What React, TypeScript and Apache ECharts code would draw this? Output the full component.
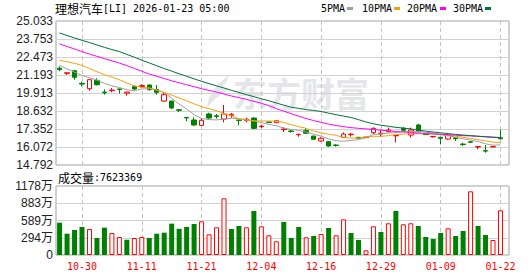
import React, { useEffect, useRef } from 'react';
import * as echarts from 'echarts';

const stockName = '理想汽车';
const stockCode = '[LI]';
const timestamp = '2026-01-23 05:00';
const volumeLabel = '成交量';
const lastVolume = 7623369;

const dates = [
  '10-27', '10-28', '10-29', '10-30', '10-31', '11-03', '11-04', '11-05', '11-06', '11-07',
  '11-10', '11-11', '11-12', '11-13', '11-14', '11-17', '11-18', '11-19', '11-20', '11-21',
  '11-24', '11-25', '11-26', '11-28', '12-01', '12-02', '12-03', '12-04', '12-05', '12-08',
  '12-09', '12-10', '12-11', '12-12', '12-15', '12-16', '12-17', '12-18', '12-19', '12-22',
  '12-23', '12-24', '12-26', '12-29', '12-30', '12-31', '01-02', '01-05', '01-06', '01-07',
  '01-08', '01-09', '01-12', '01-13', '01-14', '01-15', '01-16', '01-20', '01-21', '01-22',
];
const xTickLabels = ['10-30', '11-11', '11-21', '12-04', '12-16', '12-29', '01-09', '01-22'];

const opens = [
  21.68, 21.31, 21.5, 20.6, 20.22, 20.81, 19.98, 20.08, 20.2, 19.9,
  20.36, 20.37, 20.48, 20.17, 19.34, 19.34, 18.72, 18.18, 17.99, 17.61,
  18.42, 18.29, 18.06, 18.33, 17.99, 17.95, 18.13, 17.52, 17.85, 17.8,
  17.31, 17.21, 16.95, 17.24, 16.85, 16.5, 16.45, 16.21, 16.76, 16.95,
  16.76, 16.74, 17.09, 17.02, 17.16, 16.87, 17.4, 16.92, 17.64, 16.99,
  16.8, 16.76, 16.64, 16.73, 16.28, 16.44, 16.07, 15.81, 16.08, 16.73,
];
const closes = [
  21.57, 21.35, 21.03, 20.55, 20.86, 20.5, 19.93, 20.12, 20.17, 19.98,
  20.2, 20.44, 20.15, 19.96, 19.79, 18.85, 18.68, 18.14, 17.64, 17.97,
  18.13, 18.25, 18.42, 18.4, 17.97, 18.05, 17.4, 17.56, 17.82, 17.94,
  17.35, 17.18, 16.98, 17.05, 16.62, 16.69, 16.14, 16.18, 16.99, 16.98,
  16.7, 16.77, 17.4, 17.05, 17.28, 16.9, 17.26, 17.28, 17.16, 16.95,
  16.82, 16.69, 16.92, 16.66, 16.25, 16.41, 16.1, 15.78, 16.1, 16.66,
];
const lows = [
  21.47, 21.2, 20.86, 20.4, 20.08, 20.45, 19.79, 19.96, 19.87, 19.72,
  20.13, 20.29, 20.08, 19.79, 19.27, 18.78, 18.55, 17.9, 17.57, 17.59,
  18.09, 18.09, 17.83, 18.13, 17.61, 17.83, 17.33, 17.42, 17.82, 17.8,
  17.14, 17.1, 16.8, 17.0, 16.6, 16.45, 16.1, 16.1, 16.73, 16.82,
  16.68, 16.72, 16.99, 16.8, 17.1, 16.4, 17.16, 16.75, 17.12, 16.93,
  16.74, 16.26, 16.58, 16.5, 16.15, 16.36, 15.91, 15.67, 16.05, 16.6,
];
const highs = [
  21.8, 21.36, 21.52, 20.72, 20.9, 20.96, 20.17, 20.27, 20.22, 19.99,
  20.46, 20.53, 20.51, 20.48, 19.96, 19.36, 18.78, 18.19, 18.18, 18.13,
  18.51, 18.42, 19.06, 18.49, 18.0, 18.15, 18.18, 17.66, 17.86, 17.96,
  17.48, 17.3, 16.98, 17.4, 16.87, 16.78, 16.5, 16.28, 17.11, 17.08,
  16.78, 16.8, 17.47, 17.3, 17.45, 16.9, 17.5, 17.45, 17.72, 17.02,
  16.82, 16.78, 17.02, 16.75, 16.36, 16.5, 16.1, 16.21, 16.14, 17.28,
];

// volume in 万 (10k shares)
const volumes = [
  552, 364, 427, 478, 444, 290, 467, 376, 307, 262,
  290, 307, 290, 364, 381, 535, 447, 478, 529, 575,
  353, 473, 968, 444, 495, 473, 751, 490, 336, 234,
  563, 290, 478, 302, 324, 359, 461, 336, 609, 376,
  256, 80, 490, 393, 541, 751, 524, 541, 495, 307,
  273, 376, 456, 324, 410, 1087, 495, 341, 256, 762,
];
// 1 = rose vs previous close (red hollow), 0 = fell (green)
const volumeUp = [
  0, 0, 0, 0, 1, 0, 0, 1, 1, 0,
  1, 1, 0, 0, 0, 0, 0, 0, 0, 1,
  1, 1, 1, 0, 0, 1, 0, 1, 1, 1,
  0, 0, 0, 1, 0, 1, 0, 1, 1, 0,
  0, 1, 1, 0, 1, 0, 1, 1, 0, 0,
  0, 0, 1, 0, 0, 1, 0, 0, 1, 1,
];

const ma5 = [
  21.88, 21.62, 21.4, 21.15, 21.0, 20.83, 20.6, 20.42, 20.3, 20.14,
  20.08, 20.2, 20.22, 20.13, 19.95, 19.55, 19.12, 18.78, 18.36, 18.1,
  18.02, 18.0, 18.06, 18.12, 18.08, 18.02, 17.94, 17.8, 17.68, 17.58,
  17.42, 17.32, 17.25, 17.14, 16.98, 16.84, 16.65, 16.52, 16.48, 16.54,
  16.59, 16.74, 16.96, 17.0, 17.06, 17.1, 17.17, 17.17, 17.18, 17.12,
  17.07, 16.95, 16.87, 16.76, 16.65, 16.57, 16.46, 16.3, 16.2, 16.22,
];
const ma10 = [
  22.24, 22.14, 22.02, 21.88, 21.65, 21.42, 21.22, 21.04, 20.86, 20.62,
  20.42, 20.32, 20.28, 20.12, 19.95, 19.76, 19.56, 19.36, 19.14, 18.94,
  18.8, 18.65, 18.45, 18.28, 18.08, 17.97, 17.93, 17.92, 17.92, 17.92,
  17.82, 17.66, 17.52, 17.4, 17.2, 17.08, 16.98, 16.9, 16.74, 16.71,
  16.71, 16.8, 16.83, 16.83, 16.88, 16.95, 16.99, 17.02, 17.02, 17.01,
  17.0, 16.96, 16.9, 16.84, 16.76, 16.68, 16.6, 16.5, 16.41, 16.39,
];
const ma20 = [
  23.4, 23.22, 23.04, 22.86, 22.68, 22.52, 22.36, 22.2, 22.04, 21.86,
  21.66, 21.46, 21.26, 21.1, 20.94, 20.78, 20.64, 20.5, 20.36, 20.22,
  20.1, 19.98, 19.84, 19.7, 19.58, 19.46, 19.32, 19.18, 19.02, 18.8,
  18.62, 18.44, 18.26, 18.1, 17.95, 17.82, 17.7, 17.6, 17.52, 17.45,
  17.4, 17.36, 17.32, 17.27, 17.22, 17.17, 17.14, 17.1, 17.06, 17.03,
  17.0, 16.97, 16.94, 16.91, 16.88, 16.86, 16.83, 16.8, 16.76, 16.73,
];
const ma30 = [
  24.18, 24.0, 23.83, 23.66, 23.5, 23.33, 23.16, 23.0, 22.86, 22.66,
  22.46, 22.25, 22.05, 21.85, 21.65, 21.47, 21.28, 21.1, 20.92, 20.74,
  20.58, 20.42, 20.27, 20.1, 19.95, 19.8, 19.65, 19.5, 19.36, 19.2,
  19.05, 18.9, 18.82, 18.73, 18.67, 18.6, 18.48, 18.37, 18.27, 18.17,
  18.02, 17.85, 17.72, 17.62, 17.55, 17.47, 17.42, 17.36, 17.28, 17.2,
  17.14, 17.08, 17.02, 16.97, 16.92, 16.88, 16.84, 16.8, 16.77, 16.75,
];

const priceTicks = [14.792, 16.072, 17.352, 18.632, 19.913, 21.193, 22.473, 23.753, 25.033];
const volumeTicks = [0, 294.5, 589, 883.5, 1178];

const maNames = ['5PMA', '10PMA', '20PMA', '30PMA'];
const maColors = ['#9f9f9f', '#f2a20c', '#ff00ff', '#00703c'];
const maSeries = [ma5, ma10, ma20, ma30];

const RED = '#ff0000';
const GREEN = '#008000';
const MONO = 'DejaVu Sans Mono';
const CJK = 'Noto Sans CJK SC';

export default function App() {
  const ref = useRef<HTMLDivElement>(null);

  useEffect(() => {
    const chart = echarts.init(ref.current as HTMLDivElement, null, { renderer: 'svg' });
    const idx = dates.map((_, i) => i);
    const tickIdx = xTickLabels.map((l) => dates.indexOf(l));
    const xMin = -0.48;
    const xMax = 60.14;

    const xBase = (gridIndex: number, showLabel: boolean) => ({
      type: 'value',
      gridIndex,
      min: xMin,
      max: xMax,
      axisLine: { show: false },
      axisTick: { show: false, customValues: tickIdx },
      axisLabel: {
        show: showLabel,
        customValues: tickIdx,
        formatter: (v: number) => dates[Math.round(v)],
        color: RED,
        fontFamily: MONO,
        fontSize: 10,
        margin: 6,
      },
      splitLine: { show: true, lineStyle: { color: '#c4c4c4', type: [4, 3], width: 1 } },
    });

    const legendX = [321, 362, 407, 453];
    const legendRectX = [347, 394, 440, 485];

    const graphic: any[] = [
      {
        type: 'polygon',
        z: -10,
        silent: true,
        shape: { points: [[229, 75], [218, 84], [209, 97], [207, 108], [213, 101], [221, 94], [231, 89], [222, 88], [226, 82]] },
        style: { fill: '#e6e6ea' },
      },
      {
        type: 'text',
        z: -10,
        silent: true,
        x: 233,
        y: 92,
        style: {
          text: '东方财富',
          fontFamily: CJK,
          fontSize: 34,
          fontWeight: 'bold',
          fill: '#e6e6ea',
          verticalAlign: 'middle',
        },
      },
      {
        type: 'text',
        x: 55,
        y: 8,
        style: {
          text: `{a|${stockName}}{b|${stockCode} ${timestamp}}`,
          verticalAlign: 'middle',
          rich: {
            a: { fontFamily: CJK, fontSize: 12, fill: '#000', color: '#000' },
            b: { fontFamily: MONO, fontSize: 10, fill: '#000', color: '#000' },
          },
        },
      },
      {
        type: 'text',
        x: 58,
        y: 177,
        style: {
          text: `{a|${volumeLabel}}{b|:${lastVolume}}`,
          verticalAlign: 'middle',
          rich: {
            a: { fontFamily: CJK, fontSize: 12, fill: '#000', color: '#000' },
            b: { fontFamily: MONO, fontSize: 10, fill: '#000', color: '#000' },
          },
        },
      },
    ];
    maNames.forEach((n, k) => {
      graphic.push({
        type: 'text',
        x: legendX[k],
        y: 8,
        style: { text: n, fontFamily: MONO, fontSize: 10, fill: '#000', verticalAlign: 'middle' },
      });
      graphic.push({
        type: 'rect',
        shape: { x: legendRectX[k], y: 7, width: 6, height: 3 },
        style: { fill: maColors[k] },
      });
    });

    const option: any = {
      animation: false,
      backgroundColor: '#ffffff',
      grid: [
        { left: 56, top: 21, width: 453, height: 144, show: true, borderColor: '#a0a0a0', borderWidth: 1, outerBoundsMode: 'none' },
        { left: 56, top: 186, width: 453, height: 69, show: true, borderColor: '#a0a0a0', borderWidth: 1, outerBoundsMode: 'none' },
      ],
      xAxis: [xBase(0, false), xBase(1, true)],
      yAxis: [
        {
          type: 'value',
          gridIndex: 0,
          min: priceTicks[0],
          max: priceTicks[priceTicks.length - 1],
          axisLine: { show: false },
          axisTick: { show: false, customValues: priceTicks },
          axisLabel: {
            customValues: priceTicks,
            formatter: (v: number) => v.toFixed(3),
            color: '#222',
            fontFamily: 'Liberation Sans',
            fontSize: 12,
            margin: 3,
          },
          splitLine: { show: true, lineStyle: { color: '#d2d2d2', width: 1 } },
        },
        {
          type: 'value',
          gridIndex: 1,
          min: volumeTicks[0],
          max: volumeTicks[volumeTicks.length - 1],
          axisLine: { show: false },
          axisTick: { show: false, customValues: volumeTicks },
          axisLabel: {
            customValues: volumeTicks,
            formatter: (v: number) => (v === 0 ? '0' : Math.floor(v) + '万'),
            color: '#222',
            fontFamily: `Liberation Sans, ${CJK}`,
            fontSize: 12,
            margin: 3,
          },
          splitLine: { show: true, lineStyle: { color: '#d2d2d2', width: 1 } },
        },
      ],
      graphic,
      series: [
        {
          type: 'candlestick',
          name: 'K',
          xAxisIndex: 0,
          yAxisIndex: 0,
          barWidth: 5,
          data: idx.map((i) => [i, opens[i], closes[i], lows[i], highs[i]]),
          itemStyle: {
            color: '#ffffff',
            borderColor: RED,
            color0: GREEN,
            borderColor0: GREEN,
            borderWidth: 1,
          },
        },
        ...maSeries.map((arr, k) => ({
          type: 'line',
          name: maNames[k],
          xAxisIndex: 0,
          yAxisIndex: 0,
          symbol: 'none',
          data: idx.map((i) => [i, arr[i]]),
          lineStyle: { color: maColors[k], width: 1 },
          itemStyle: { color: maColors[k] },
        })),
        {
          type: 'bar',
          name: volumeLabel,
          xAxisIndex: 1,
          yAxisIndex: 1,
          barWidth: 5,
          data: idx.map((i) => ({
            value: [i, volumes[i]],
            itemStyle: volumeUp[i]
              ? { color: '#ffffff', borderColor: RED, borderWidth: 1 }
              : { color: GREEN, borderColor: GREEN, borderWidth: 0 },
          })),
        },
      ],
    };

    chart.setOption(option);
    return () => chart.dispose();
  }, []);

  return (
    <div
      ref={ref}
      style={{ position: 'absolute', left: 0, top: 0, width: 530, height: 276 }}
    />
  );
}
